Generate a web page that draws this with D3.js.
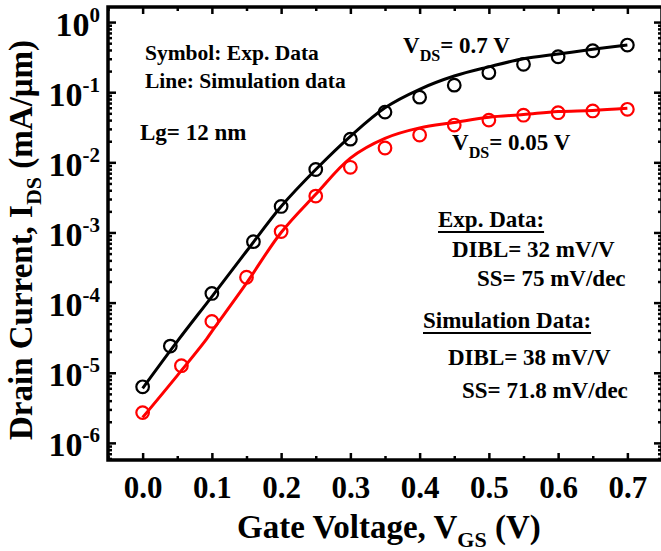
<!DOCTYPE html>
<html>
<head>
<meta charset="utf-8">
<script src="https://cdn.jsdelivr.net/npm/d3@7"></script>
<style>
  body { margin: 0; background: #fff; }
  svg { display: block; font-family: "Liberation Serif", "Times New Roman", serif; font-weight: bold; }
</style>
</head>
<body>
<svg id="chart" width="661" height="551"></svg>
<script>
// gate voltage of measured points (V)
var expVgsHigh = [0, 0.04, 0.1, 0.16, 0.2, 0.25, 0.3, 0.35, 0.4, 0.45, 0.5, 0.55, 0.6, 0.65, 0.7];
var expIdsHigh = [6.3e-6, 2.4e-5, 1.35e-4, 7.4e-4, 2.35e-3, 7.9e-3, 0.0214, 0.052, 0.085, 0.126, 0.19, 0.25, 0.32, 0.39, 0.47];
var expVgsLow = [0, 0.056, 0.1, 0.15, 0.2, 0.25, 0.3, 0.35, 0.4, 0.45, 0.5, 0.55, 0.6, 0.65, 0.7];
var expIdsLow = [2.7e-6, 1.26e-5, 5.4e-5, 2.3e-4, 1.03e-3, 3.3e-3, 8.5e-3, 0.016, 0.0245, 0.034, 0.04, 0.047, 0.051, 0.054, 0.057];

// simulation curves
var simVgsHigh = [0, 0.05, 0.1, 0.15, 0.2, 0.25, 0.3, 0.35, 0.4, 0.45, 0.5, 0.55, 0.6, 0.65, 0.7];
var simIdsHigh = [6.0e-6, 2.8e-5, 1.22e-4, 5.4e-4, 2.35e-3, 7.9e-3, 0.0235, 0.06, 0.11, 0.17, 0.23, 0.30, 0.35, 0.41, 0.47];
var simVgsLow = [0, 0.05, 0.092, 0.1, 0.15, 0.2, 0.25, 0.3, 0.35, 0.4, 0.45, 0.5, 0.55, 0.6, 0.65, 0.7];
var simIdsLow = [2.3e-6, 9.1e-6, 3.0e-5, 3.9e-5, 1.9e-4, 1.0e-3, 3.5e-3, 0.0115, 0.022, 0.031, 0.037, 0.044, 0.048, 0.053, 0.055, 0.059];

var xMajor = [0, 0.1, 0.2, 0.3, 0.4, 0.5, 0.6, 0.7];
var xMinor = [-0.05, 0.05, 0.15, 0.25, 0.35, 0.45, 0.55, 0.65, 0.75];
var yExponents = [0, -1, -2, -3, -4, -5, -6];

var svg = d3.select('#chart');
var pLeft = 108, pRight = 662, pTop = 7, pBottom = 460;

var x = d3.scaleLinear().domain([-0.05, 0.75]).range([pLeft, pRight]);
var y = d3.scaleLog().domain([5.7e-7, 1.64]).range([pBottom, pTop]);

var yMajor = yExponents.map(function (e) { return Math.pow(10, e); });
var yMinor = [];
yExponents.forEach(function (e) {
    for (var k = 2; k <= 9; k++) {
        var v = k * Math.pow(10, e - 1);
        if (v > y.domain()[0]) yMinor.push(v);
    }
});

function styleAxis(g) {
    g.select('.domain').remove();
    g.selectAll('.tick line').attr('stroke', '#000').attr('stroke-width', 2.5);
}

// bottom + top
svg.append('g').attr('transform', 'translate(0,' + pBottom + ')')
    .call(d3.axisBottom(x).tickValues(xMajor).tickSizeInner(-7).tickSizeOuter(0)
        .tickFormat(d3.format('.1f')))
    .call(styleAxis)
    .selectAll('text').attr('font-size', 31).attr('fill', '#000')
    .attr('font-family', '"Liberation Serif", serif').attr('font-weight', 'bold')
    .attr('dy', null).attr('y', 38);
svg.append('g').attr('transform', 'translate(0,' + pBottom + ')')
    .call(d3.axisBottom(x).tickValues(xMinor).tickSize(-4).tickFormat(''))
    .call(styleAxis);
svg.append('g').attr('transform', 'translate(0,' + pTop + ')')
    .call(d3.axisTop(x).tickValues(xMajor).tickSize(-7).tickFormat(''))
    .call(styleAxis);
svg.append('g').attr('transform', 'translate(0,' + pTop + ')')
    .call(d3.axisTop(x).tickValues(xMinor).tickSize(-4).tickFormat(''))
    .call(styleAxis);

// left + right
var yAxisG = svg.append('g').attr('transform', 'translate(' + pLeft + ',0)')
    .call(d3.axisLeft(y).tickValues(yMajor).tickSize(-8).tickFormat(''))
    .call(styleAxis);
yAxisG.selectAll('.tick').each(function (d) {
    var t = d3.select(this).append('text')
        .attr('x', -8).attr('y', 13).attr('text-anchor', 'end').attr('fill', '#000')
        .attr('font-family', '"Liberation Serif", serif').attr('font-weight', 'bold');
    t.append('tspan').attr('font-size', 34).text('10');
    t.append('tspan').attr('font-size', 21).attr('dy', -14).text(String(Math.round(Math.log10(d))));
});
svg.append('g').attr('transform', 'translate(' + pLeft + ',0)')
    .call(d3.axisLeft(y).tickValues(yMinor).tickSize(-4).tickFormat(''))
    .call(styleAxis);
svg.append('g').attr('transform', 'translate(' + pRight + ',0)')
    .call(d3.axisRight(y).tickValues(yMajor).tickSize(-8).tickFormat(''))
    .call(styleAxis);
svg.append('g').attr('transform', 'translate(' + pRight + ',0)')
    .call(d3.axisRight(y).tickValues(yMinor).tickSize(-4).tickFormat(''))
    .call(styleAxis);

// frame
svg.append('rect').attr('x', pLeft).attr('y', pTop)
    .attr('width', pRight - pLeft).attr('height', pBottom - pTop)
    .attr('fill', 'none').attr('stroke', '#000').attr('stroke-width', 3.5);

// curves
var line = d3.line()
    .x(function (d) { return x(d[0]); })
    .y(function (d) { return y(d[1]); })
    .curve(d3.curveCatmullRom.alpha(0.5));

function drawSeries(vs, is, color) {
    svg.append('path')
        .datum(d3.zip(vs, is))
        .attr('fill', 'none').attr('stroke', color).attr('stroke-width', 3)
        .attr('d', line);
}
function drawPoints(vs, is, color) {
    svg.append('g').selectAll('circle')
        .data(d3.zip(vs, is)).join('circle')
        .attr('cx', function (d) { return x(d[0]); })
        .attr('cy', function (d) { return y(d[1]); })
        .attr('r', 6.3)
        .attr('fill', 'none').attr('stroke', color).attr('stroke-width', 2.2);
}
drawSeries(simVgsHigh, simIdsHigh, '#000');
drawSeries(simVgsLow, simIdsLow, '#ff0000');
drawPoints(expVgsHigh, expIdsHigh, '#000');
drawPoints(expVgsLow, expIdsLow, '#ff0000');

// axis titles
var xt = svg.append('text').attr('x', 237).attr('y', 538).attr('font-size', 33).attr('fill', '#000');
xt.append('tspan').text('Gate Voltage, V');
xt.append('tspan').attr('font-size', 22).attr('dy', 9).text('GS');
xt.append('tspan').attr('dy', -9).text(' (V)');

var yt = svg.append('text').attr('transform', 'translate(32,240) rotate(-90)')
    .attr('text-anchor', 'middle').attr('font-size', 33).attr('fill', '#000');
yt.append('tspan').text('Drain Current, I');
yt.append('tspan').attr('font-size', 22).attr('dy', 9).text('DS');
yt.append('tspan').attr('dy', -9).text(' (mA/\u03bcm)');

// annotations
function note(tx, ty, size, parts, underline) {
    var t = svg.append('text').attr('x', tx).attr('y', ty).attr('font-size', size).attr('fill', '#000');
    parts.forEach(function (p) {
        var s = t.append('tspan').text(p[0]);
        if (p[1] === 'sub') s.attr('font-size', size * 0.7).attr('dy', 8);
        if (p[1] === 'up') s.attr('dy', -8);
    });
    if (underline) {
        var b = t.node().getBBox();
        svg.append('line').attr('x1', b.x).attr('x2', b.x + b.width)
            .attr('y1', ty + 5).attr('y2', ty + 5).attr('stroke', '#000').attr('stroke-width', 2);
    }
}
note(145, 60, 21.5, [['Symbol: Exp. Data']]);
note(145, 88, 21.5, [['Line: Simulation data']]);
note(140, 140, 23, [['Lg= 12 nm']]);
note(403, 53, 23, [['V'], ['DS', 'sub'], ['= 0.7 V', 'up']]);
note(452, 150, 23, [['V'], ['DS', 'sub'], ['= 0.05 V', 'up']]);
note(438, 227, 23, [['Exp. Data:']], true);
note(452, 257, 23, [['DIBL= 32 mV/V']]);
note(477, 286, 23, [['SS= 75 mV/dec']]);
note(423, 328, 23, [['Simulation Data:']], true);
note(448, 365, 23, [['DIBL= 38 mV/V']]);
note(462, 398, 23, [['SS= 71.8 mV/dec']]);
</script>
</body>
</html>
